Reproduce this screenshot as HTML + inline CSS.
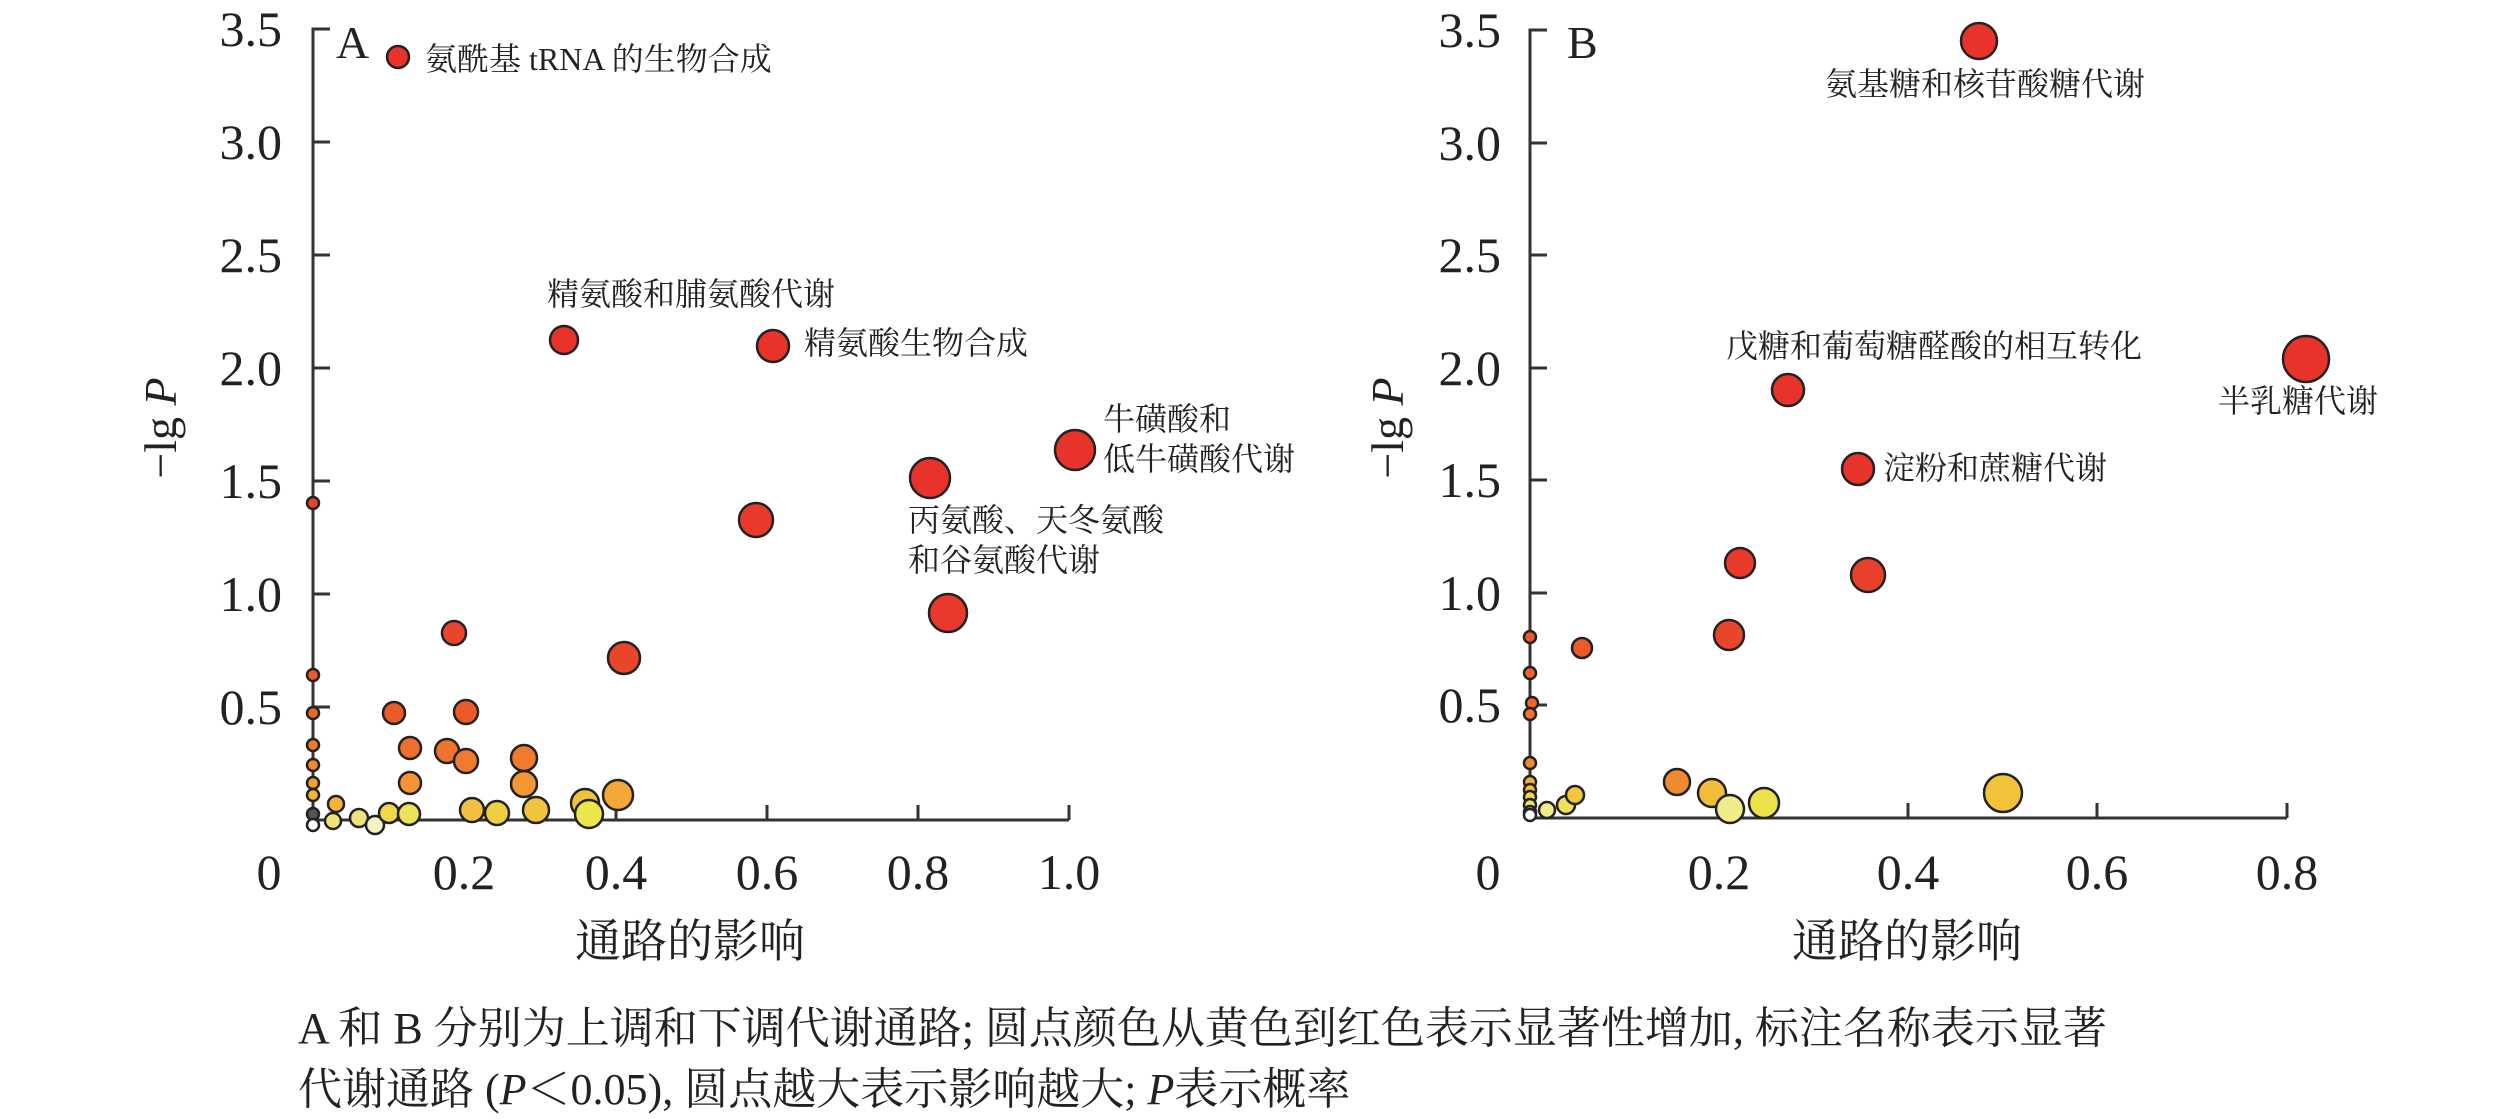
<!DOCTYPE html>
<html><head><meta charset="utf-8"><style>
html,body{margin:0;padding:0;background:#fff;}
svg{display:block;}
.t{font-family:"Liberation Serif","Noto Serif CJK SC",serif;fill:#222;}
.an{font-size:32px;}
.tk{font-size:50px;}
.ax{font-size:46px;}
.cap{font-size:44px;}
circle{stroke:#222;stroke-width:2.5;}
</style></head><body>
<svg width="2520" height="1119" viewBox="0 0 2520 1119" xmlns="http://www.w3.org/2000/svg">
<!-- Panel A axes -->
<g stroke="#333" stroke-width="3" fill="none">
<polyline points="330,29 313,29 313,820 1069,820"/>
<line x1="313" y1="142" x2="330" y2="142"/><line x1="313" y1="255" x2="330" y2="255"/>
<line x1="313" y1="368" x2="330" y2="368"/><line x1="313" y1="481" x2="330" y2="481"/>
<line x1="313" y1="594" x2="330" y2="594"/><line x1="313" y1="707" x2="330" y2="707"/>
<line x1="464" y1="820" x2="464" y2="805"/><line x1="616" y1="820" x2="616" y2="805"/>
<line x1="767" y1="820" x2="767" y2="805"/><line x1="918" y1="820" x2="918" y2="805"/>
<line x1="1069" y1="820" x2="1069" y2="805"/>
</g>
<g class="t tk" text-anchor="end">
<text x="282" y="46">3.5</text><text x="282" y="159">3.0</text><text x="282" y="272">2.5</text>
<text x="282" y="385">2.0</text><text x="282" y="498">1.5</text><text x="282" y="611">1.0</text>
<text x="282" y="724">0.5</text>
</g>
<g class="t tk" text-anchor="middle">
<text x="269" y="889">0</text><text x="464" y="889">0.2</text><text x="616" y="889">0.4</text>
<text x="767" y="889">0.6</text><text x="918" y="889">0.8</text><text x="1069" y="889">1.0</text>
</g>
<text class="t ax" x="690" y="957" text-anchor="middle">通路的影响</text>
<text class="t ax" transform="translate(176,428) rotate(-90)" text-anchor="middle">−lg <tspan font-style="italic">P</tspan></text>
<text class="t" x="336" y="58" font-size="46">A</text>
<!-- Panel A points -->
<g>
<circle cx="313" cy="503" r="6" fill="#e8432a"/><circle cx="313" cy="675" r="6" fill="#ec5a2a"/>
<circle cx="313" cy="713" r="6" fill="#ed672b"/><circle cx="313" cy="745" r="6" fill="#ef7a2c"/>
<circle cx="313" cy="765" r="6" fill="#f08a2e"/><circle cx="313" cy="783" r="6" fill="#f2a032"/>
<circle cx="313" cy="795" r="6" fill="#f3b436"/><circle cx="313" cy="814" r="6" fill="#555"/>
<circle cx="313" cy="825" r="6" fill="#fff"/>
<circle cx="333" cy="821" r="8" fill="#eee47a"/>
<circle cx="336" cy="804" r="8" fill="#f3b436"/>
<circle cx="359" cy="818" r="9" fill="#eee47a"/>
<circle cx="375" cy="825" r="9" fill="#f6f2c4"/>
<circle cx="389" cy="813" r="10" fill="#efd84a"/>
<circle cx="409" cy="814" r="11" fill="#eee25a"/>
<circle cx="472" cy="810" r="12" fill="#f1c040"/>
<circle cx="497" cy="813" r="12" fill="#efcf42"/>
<circle cx="536" cy="810" r="13" fill="#f0c43c"/>
<circle cx="585" cy="803" r="14" fill="#f1c23c"/>
<circle cx="589" cy="814" r="14" fill="#ebe64a"/>
<circle cx="618" cy="795" r="15" fill="#f2a836"/>
<circle cx="410" cy="783" r="11" fill="#f49434"/>
<circle cx="524" cy="784" r="13" fill="#f39734"/>
<circle cx="524" cy="758" r="13" fill="#f07a2e"/>
<circle cx="410" cy="748" r="11" fill="#ef6f2c"/>
<circle cx="447" cy="751" r="12" fill="#ef722d"/>
<circle cx="466" cy="761" r="12" fill="#f07a2e"/>
<circle cx="394" cy="713" r="11" fill="#ec5a2a"/>
<circle cx="466" cy="712" r="12" fill="#ec5a2a"/>
<circle cx="454" cy="633" r="12" fill="#e9452a"/>
<circle cx="624" cy="658" r="16" fill="#e9452a"/>
<circle cx="756" cy="520" r="17" fill="#e8392a"/>
<circle cx="948" cy="613" r="19" fill="#e8392a"/>
<circle cx="930" cy="478" r="20" fill="#e8332a"/>
<circle cx="1075" cy="450" r="20" fill="#e8332a"/>
<circle cx="773" cy="346" r="16" fill="#e8332a"/>
<circle cx="564" cy="340" r="14" fill="#e8332a"/>
<circle cx="398" cy="57" r="11" fill="#e8332a"/>
</g>
<g class="t an">
<text x="425" y="70">氨酰基 tRNA 的生物合成</text>
<text x="547" y="305">精氨酸和脯氨酸代谢</text>
<text x="804" y="354">精氨酸生物合成</text>
<text x="1103" y="430">牛磺酸和</text>
<text x="1103" y="470">低牛磺酸代谢</text>
<text x="908" y="531">丙氨酸、天冬氨酸</text>
<text x="908" y="571">和谷氨酸代谢</text>
</g>
<!-- Panel B axes -->
<g stroke="#333" stroke-width="3" fill="none">
<polyline points="1547,30 1530,30 1530,818 2287,818"/>
<line x1="1530" y1="143" x2="1547" y2="143"/><line x1="1530" y1="255" x2="1547" y2="255"/>
<line x1="1530" y1="368" x2="1547" y2="368"/><line x1="1530" y1="480" x2="1547" y2="480"/>
<line x1="1530" y1="593" x2="1547" y2="593"/><line x1="1530" y1="705" x2="1547" y2="705"/>
<line x1="1908" y1="818" x2="1908" y2="803"/><line x1="2097" y1="818" x2="2097" y2="803"/>
<line x1="2287" y1="818" x2="2287" y2="803"/>
</g>
<g class="t tk" text-anchor="end">
<text x="1501" y="47">3.5</text><text x="1501" y="160">3.0</text><text x="1501" y="272">2.5</text>
<text x="1501" y="385">2.0</text><text x="1501" y="497">1.5</text><text x="1501" y="610">1.0</text>
<text x="1501" y="722">0.5</text>
</g>
<g class="t tk" text-anchor="middle">
<text x="1488" y="889">0</text><text x="1719" y="889">0.2</text><text x="1908" y="889">0.4</text>
<text x="2097" y="889">0.6</text><text x="2287" y="889">0.8</text>
</g>
<text class="t ax" x="1907" y="957" text-anchor="middle">通路的影响</text>
<text class="t ax" transform="translate(1403,428) rotate(-90)" text-anchor="middle">−lg <tspan font-style="italic">P</tspan></text>
<text class="t" x="1567" y="58" font-size="46">B</text>
<g>
<circle cx="1530" cy="637" r="6" fill="#ec5a2a"/><circle cx="1530" cy="673" r="6" fill="#ed672b"/>
<circle cx="1532" cy="703" r="6" fill="#ed672b"/><circle cx="1530" cy="714" r="6" fill="#ef722d"/>
<circle cx="1530" cy="763" r="6" fill="#f08a2e"/><circle cx="1530" cy="782" r="6" fill="#f3b436"/>
<circle cx="1530" cy="790" r="6" fill="#f3c036"/><circle cx="1530" cy="797" r="6" fill="#eed44a"/>
<circle cx="1530" cy="805" r="6" fill="#eee25a"/><circle cx="1530" cy="812" r="6" fill="#f6f2c4"/>
<circle cx="1530" cy="815" r="6" fill="#fff"/>
<circle cx="1547" cy="810" r="8" fill="#f0ec8a"/>
<circle cx="1566" cy="805" r="9" fill="#eee25a"/>
<circle cx="1575" cy="795" r="9" fill="#f1c83c"/>
<circle cx="1582" cy="648" r="10" fill="#ec5a2a"/>
<circle cx="1677" cy="782" r="13" fill="#f08a2e"/>
<circle cx="1712" cy="793" r="14" fill="#f1bc3a"/>
<circle cx="1730" cy="809" r="14" fill="#f0ec8a"/>
<circle cx="1764" cy="803" r="15" fill="#eee24a"/>
<circle cx="2003" cy="793" r="19" fill="#f1c23a"/>
<circle cx="1729" cy="635" r="15" fill="#e9452a"/>
<circle cx="1740" cy="563" r="15" fill="#e8392a"/>
<circle cx="1868" cy="575" r="17" fill="#e8402a"/>
<circle cx="1858" cy="469" r="16" fill="#e8332a"/>
<circle cx="1788" cy="390" r="16" fill="#e8332a"/>
<circle cx="2306" cy="359" r="23" fill="#e8332a"/>
<circle cx="1979" cy="41" r="18" fill="#e8332a"/>
</g>
<g class="t an">
<text x="1985" y="95" text-anchor="middle">氨基糖和核苷酸糖代谢</text>
<text x="1726" y="357">戊糖和葡萄糖醛酸的相互转化</text>
<text x="2218" y="412">半乳糖代谢</text>
<text x="1883" y="479">淀粉和蔗糖代谢</text>
</g>
<g class="t cap">
<text x="298" y="1043">A 和 B 分别为上调和下调代谢通路; 圆点颜色从黄色到红色表示显著性增加, 标注名称表示显著</text>
<text x="298" y="1104">代谢通路 (<tspan font-style="italic">P</tspan>＜0.05), 圆点越大表示影响越大; <tspan font-style="italic">P</tspan>表示概率</text>
</g>
</svg>
</body></html>
